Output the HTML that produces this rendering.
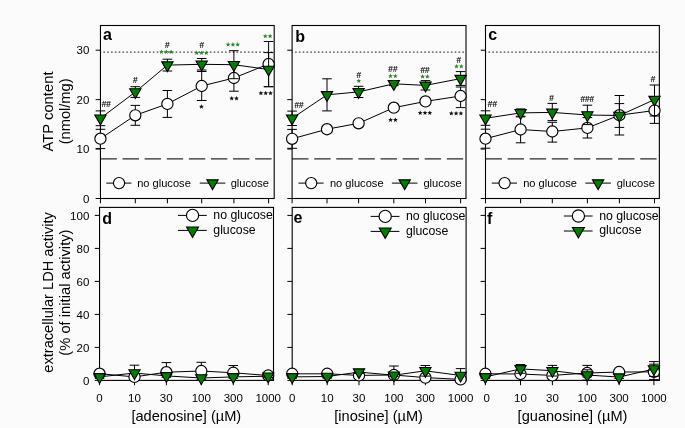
<!DOCTYPE html><html><head><meta charset="utf-8"><style>html,body{margin:0;padding:0;background:#fbfbfb;}svg{display:block;will-change:transform;}text{font-family:"Liberation Sans", sans-serif;}</style></head><body>
<svg width="685" height="428" viewBox="0 0 685 428">
<rect x="0" y="0" width="685" height="428" fill="#fbfbfb"/>
<line x1="100.45" y1="52.20" x2="274.20" y2="52.20" stroke="#444" stroke-width="1.3" stroke-dasharray="1.6 2.2" stroke-dashoffset="0.8"/>
<line x1="100.45" y1="158.90" x2="274.20" y2="158.90" stroke="#2a2a2a" stroke-width="1.2" stroke-dasharray="16.4 5.7"/>
<rect x="100.45" y="25.50" width="173.75" height="173.00" fill="none" stroke="#000" stroke-width="1.1"/>
<line x1="95.65" y1="198.50" x2="100.45" y2="198.50" stroke="#000" stroke-width="1"/>
<line x1="95.65" y1="149.07" x2="100.45" y2="149.07" stroke="#000" stroke-width="1"/>
<line x1="95.65" y1="99.64" x2="100.45" y2="99.64" stroke="#000" stroke-width="1"/>
<line x1="95.65" y1="50.21" x2="100.45" y2="50.21" stroke="#000" stroke-width="1"/>
<line x1="100.45" y1="198.50" x2="100.45" y2="203.30" stroke="#000" stroke-width="1"/>
<line x1="135.30" y1="198.50" x2="135.30" y2="203.30" stroke="#000" stroke-width="1"/>
<line x1="167.40" y1="198.50" x2="167.40" y2="203.30" stroke="#000" stroke-width="1"/>
<line x1="201.70" y1="198.50" x2="201.70" y2="203.30" stroke="#000" stroke-width="1"/>
<line x1="233.90" y1="198.50" x2="233.90" y2="203.30" stroke="#000" stroke-width="1"/>
<line x1="268.60" y1="198.50" x2="268.60" y2="203.30" stroke="#000" stroke-width="1"/>
<path d="M100.45 138.70L135.30 115.30L167.40 103.90L201.70 86.00L233.90 78.00L268.60 64.00" fill="none" stroke="#000" stroke-width="1"/>
<line x1="100.45" y1="129.30" x2="100.45" y2="148.60" stroke="#000" stroke-width="1"/>
<line x1="95.65" y1="129.30" x2="105.25" y2="129.30" stroke="#000" stroke-width="1"/>
<line x1="95.65" y1="148.60" x2="105.25" y2="148.60" stroke="#000" stroke-width="1"/>
<line x1="135.30" y1="105.40" x2="135.30" y2="125.30" stroke="#000" stroke-width="1"/>
<line x1="130.50" y1="105.40" x2="140.10" y2="105.40" stroke="#000" stroke-width="1"/>
<line x1="130.50" y1="125.30" x2="140.10" y2="125.30" stroke="#000" stroke-width="1"/>
<line x1="167.40" y1="90.50" x2="167.40" y2="117.40" stroke="#000" stroke-width="1"/>
<line x1="162.60" y1="90.50" x2="172.20" y2="90.50" stroke="#000" stroke-width="1"/>
<line x1="162.60" y1="117.40" x2="172.20" y2="117.40" stroke="#000" stroke-width="1"/>
<line x1="201.70" y1="71.50" x2="201.70" y2="100.50" stroke="#000" stroke-width="1"/>
<line x1="196.90" y1="71.50" x2="206.50" y2="71.50" stroke="#000" stroke-width="1"/>
<line x1="196.90" y1="100.50" x2="206.50" y2="100.50" stroke="#000" stroke-width="1"/>
<line x1="233.90" y1="64.80" x2="233.90" y2="91.20" stroke="#000" stroke-width="1"/>
<line x1="229.10" y1="64.80" x2="238.70" y2="64.80" stroke="#000" stroke-width="1"/>
<line x1="229.10" y1="91.20" x2="238.70" y2="91.20" stroke="#000" stroke-width="1"/>
<line x1="268.60" y1="41.50" x2="268.60" y2="86.70" stroke="#000" stroke-width="1"/>
<line x1="263.80" y1="41.50" x2="273.40" y2="41.50" stroke="#000" stroke-width="1"/>
<line x1="263.80" y1="86.70" x2="273.40" y2="86.70" stroke="#000" stroke-width="1"/>
<circle cx="100.45" cy="138.70" r="5.60" fill="#fff" stroke="#000" stroke-width="1.15"/>
<circle cx="135.30" cy="115.30" r="5.60" fill="#fff" stroke="#000" stroke-width="1.15"/>
<circle cx="167.40" cy="103.90" r="5.60" fill="#fff" stroke="#000" stroke-width="1.15"/>
<circle cx="201.70" cy="86.00" r="5.60" fill="#fff" stroke="#000" stroke-width="1.15"/>
<circle cx="233.90" cy="78.00" r="5.60" fill="#fff" stroke="#000" stroke-width="1.15"/>
<circle cx="268.60" cy="64.00" r="5.60" fill="#fff" stroke="#000" stroke-width="1.15"/>
<path d="M100.45 118.30L135.30 92.00L167.40 65.10L201.70 64.30L233.90 64.70L268.60 69.50" fill="none" stroke="#000" stroke-width="1"/>
<line x1="100.45" y1="110.90" x2="100.45" y2="125.70" stroke="#000" stroke-width="1"/>
<line x1="95.65" y1="110.90" x2="105.25" y2="110.90" stroke="#000" stroke-width="1"/>
<line x1="95.65" y1="125.70" x2="105.25" y2="125.70" stroke="#000" stroke-width="1"/>
<line x1="135.30" y1="86.70" x2="135.30" y2="97.40" stroke="#000" stroke-width="1"/>
<line x1="130.50" y1="86.70" x2="140.10" y2="86.70" stroke="#000" stroke-width="1"/>
<line x1="130.50" y1="97.40" x2="140.10" y2="97.40" stroke="#000" stroke-width="1"/>
<line x1="167.40" y1="59.20" x2="167.40" y2="71.00" stroke="#000" stroke-width="1"/>
<line x1="162.60" y1="59.20" x2="172.20" y2="59.20" stroke="#000" stroke-width="1"/>
<line x1="162.60" y1="71.00" x2="172.20" y2="71.00" stroke="#000" stroke-width="1"/>
<line x1="201.70" y1="58.50" x2="201.70" y2="70.00" stroke="#000" stroke-width="1"/>
<line x1="196.90" y1="58.50" x2="206.50" y2="58.50" stroke="#000" stroke-width="1"/>
<line x1="196.90" y1="70.00" x2="206.50" y2="70.00" stroke="#000" stroke-width="1"/>
<line x1="233.90" y1="50.70" x2="233.90" y2="78.70" stroke="#000" stroke-width="1"/>
<line x1="229.10" y1="50.70" x2="238.70" y2="50.70" stroke="#000" stroke-width="1"/>
<line x1="229.10" y1="78.70" x2="238.70" y2="78.70" stroke="#000" stroke-width="1"/>
<line x1="268.60" y1="52.60" x2="268.60" y2="86.70" stroke="#000" stroke-width="1"/>
<line x1="263.80" y1="52.60" x2="273.40" y2="52.60" stroke="#000" stroke-width="1"/>
<line x1="263.80" y1="86.70" x2="273.40" y2="86.70" stroke="#000" stroke-width="1"/>
<path d="M94.80 115.04L106.10 115.04L100.45 124.82Z" fill="#008000" stroke="#000" stroke-width="1.1"/>
<path d="M129.65 88.74L140.95 88.74L135.30 98.52Z" fill="#008000" stroke="#000" stroke-width="1.1"/>
<path d="M161.75 61.84L173.05 61.84L167.40 71.62Z" fill="#008000" stroke="#000" stroke-width="1.1"/>
<path d="M196.05 61.04L207.35 61.04L201.70 70.82Z" fill="#008000" stroke="#000" stroke-width="1.1"/>
<path d="M228.25 61.44L239.55 61.44L233.90 71.22Z" fill="#008000" stroke="#000" stroke-width="1.1"/>
<path d="M262.95 66.24L274.25 66.24L268.60 76.02Z" fill="#008000" stroke="#000" stroke-width="1.1"/>
<line x1="292.10" y1="52.20" x2="466.00" y2="52.20" stroke="#444" stroke-width="1.3" stroke-dasharray="1.6 2.2" stroke-dashoffset="0.8"/>
<line x1="292.10" y1="158.90" x2="466.00" y2="158.90" stroke="#2a2a2a" stroke-width="1.2" stroke-dasharray="16.4 5.7"/>
<rect x="292.10" y="25.50" width="173.90" height="173.00" fill="none" stroke="#000" stroke-width="1.1"/>
<line x1="287.30" y1="198.50" x2="292.10" y2="198.50" stroke="#000" stroke-width="1"/>
<line x1="287.30" y1="149.07" x2="292.10" y2="149.07" stroke="#000" stroke-width="1"/>
<line x1="287.30" y1="99.64" x2="292.10" y2="99.64" stroke="#000" stroke-width="1"/>
<line x1="287.30" y1="50.21" x2="292.10" y2="50.21" stroke="#000" stroke-width="1"/>
<line x1="292.10" y1="198.50" x2="292.10" y2="203.30" stroke="#000" stroke-width="1"/>
<line x1="327.00" y1="198.50" x2="327.00" y2="203.30" stroke="#000" stroke-width="1"/>
<line x1="358.60" y1="198.50" x2="358.60" y2="203.30" stroke="#000" stroke-width="1"/>
<line x1="393.80" y1="198.50" x2="393.80" y2="203.30" stroke="#000" stroke-width="1"/>
<line x1="425.50" y1="198.50" x2="425.50" y2="203.30" stroke="#000" stroke-width="1"/>
<line x1="460.60" y1="198.50" x2="460.60" y2="203.30" stroke="#000" stroke-width="1"/>
<path d="M292.10 138.80L327.00 129.20L358.60 123.30L393.80 107.70L425.50 101.40L460.60 96.00" fill="none" stroke="#000" stroke-width="1"/>
<line x1="292.10" y1="129.40" x2="292.10" y2="148.30" stroke="#000" stroke-width="1"/>
<line x1="287.30" y1="129.40" x2="296.90" y2="129.40" stroke="#000" stroke-width="1"/>
<line x1="287.30" y1="148.30" x2="296.90" y2="148.30" stroke="#000" stroke-width="1"/>
<line x1="327.00" y1="127.00" x2="327.00" y2="131.40" stroke="#000" stroke-width="1"/>
<line x1="322.20" y1="127.00" x2="331.80" y2="127.00" stroke="#000" stroke-width="1"/>
<line x1="322.20" y1="131.40" x2="331.80" y2="131.40" stroke="#000" stroke-width="1"/>
<line x1="358.60" y1="121.50" x2="358.60" y2="125.00" stroke="#000" stroke-width="1"/>
<line x1="353.80" y1="121.50" x2="363.40" y2="121.50" stroke="#000" stroke-width="1"/>
<line x1="353.80" y1="125.00" x2="363.40" y2="125.00" stroke="#000" stroke-width="1"/>
<line x1="393.80" y1="106.00" x2="393.80" y2="109.50" stroke="#000" stroke-width="1"/>
<line x1="389.00" y1="106.00" x2="398.60" y2="106.00" stroke="#000" stroke-width="1"/>
<line x1="389.00" y1="109.50" x2="398.60" y2="109.50" stroke="#000" stroke-width="1"/>
<line x1="425.50" y1="99.60" x2="425.50" y2="103.40" stroke="#000" stroke-width="1"/>
<line x1="420.70" y1="99.60" x2="430.30" y2="99.60" stroke="#000" stroke-width="1"/>
<line x1="420.70" y1="103.40" x2="430.30" y2="103.40" stroke="#000" stroke-width="1"/>
<line x1="460.60" y1="87.00" x2="460.60" y2="107.60" stroke="#000" stroke-width="1"/>
<line x1="455.80" y1="87.00" x2="465.40" y2="87.00" stroke="#000" stroke-width="1"/>
<line x1="455.80" y1="107.60" x2="465.40" y2="107.60" stroke="#000" stroke-width="1"/>
<circle cx="292.10" cy="138.80" r="5.60" fill="#fff" stroke="#000" stroke-width="1.15"/>
<circle cx="327.00" cy="129.20" r="5.60" fill="#fff" stroke="#000" stroke-width="1.15"/>
<circle cx="358.60" cy="123.30" r="5.60" fill="#fff" stroke="#000" stroke-width="1.15"/>
<circle cx="393.80" cy="107.70" r="5.60" fill="#fff" stroke="#000" stroke-width="1.15"/>
<circle cx="425.50" cy="101.40" r="5.60" fill="#fff" stroke="#000" stroke-width="1.15"/>
<circle cx="460.60" cy="96.00" r="5.60" fill="#fff" stroke="#000" stroke-width="1.15"/>
<path d="M292.10 118.30L327.00 94.85L358.60 91.90L393.80 83.80L425.50 85.40L460.60 78.60" fill="none" stroke="#000" stroke-width="1"/>
<line x1="292.10" y1="111.10" x2="292.10" y2="125.50" stroke="#000" stroke-width="1"/>
<line x1="287.30" y1="111.10" x2="296.90" y2="111.10" stroke="#000" stroke-width="1"/>
<line x1="287.30" y1="125.50" x2="296.90" y2="125.50" stroke="#000" stroke-width="1"/>
<line x1="327.00" y1="78.80" x2="327.00" y2="110.90" stroke="#000" stroke-width="1"/>
<line x1="322.20" y1="78.80" x2="331.80" y2="78.80" stroke="#000" stroke-width="1"/>
<line x1="322.20" y1="110.90" x2="331.80" y2="110.90" stroke="#000" stroke-width="1"/>
<line x1="358.60" y1="86.30" x2="358.60" y2="97.50" stroke="#000" stroke-width="1"/>
<line x1="353.80" y1="86.30" x2="363.40" y2="86.30" stroke="#000" stroke-width="1"/>
<line x1="353.80" y1="97.50" x2="363.40" y2="97.50" stroke="#000" stroke-width="1"/>
<line x1="393.80" y1="82.00" x2="393.80" y2="85.60" stroke="#000" stroke-width="1"/>
<line x1="389.00" y1="82.00" x2="398.60" y2="82.00" stroke="#000" stroke-width="1"/>
<line x1="389.00" y1="85.60" x2="398.60" y2="85.60" stroke="#000" stroke-width="1"/>
<line x1="425.50" y1="80.60" x2="425.50" y2="90.00" stroke="#000" stroke-width="1"/>
<line x1="420.70" y1="80.60" x2="430.30" y2="80.60" stroke="#000" stroke-width="1"/>
<line x1="420.70" y1="90.00" x2="430.30" y2="90.00" stroke="#000" stroke-width="1"/>
<line x1="460.60" y1="71.60" x2="460.60" y2="85.40" stroke="#000" stroke-width="1"/>
<line x1="455.80" y1="71.60" x2="465.40" y2="71.60" stroke="#000" stroke-width="1"/>
<line x1="455.80" y1="85.40" x2="465.40" y2="85.40" stroke="#000" stroke-width="1"/>
<path d="M286.45 115.04L297.75 115.04L292.10 124.82Z" fill="#008000" stroke="#000" stroke-width="1.1"/>
<path d="M321.35 91.59L332.65 91.59L327.00 101.37Z" fill="#008000" stroke="#000" stroke-width="1.1"/>
<path d="M352.95 88.64L364.25 88.64L358.60 98.42Z" fill="#008000" stroke="#000" stroke-width="1.1"/>
<path d="M388.15 80.54L399.45 80.54L393.80 90.32Z" fill="#008000" stroke="#000" stroke-width="1.1"/>
<path d="M419.85 82.14L431.15 82.14L425.50 91.92Z" fill="#008000" stroke="#000" stroke-width="1.1"/>
<path d="M454.95 75.34L466.25 75.34L460.60 85.12Z" fill="#008000" stroke="#000" stroke-width="1.1"/>
<line x1="485.50" y1="52.20" x2="659.35" y2="52.20" stroke="#444" stroke-width="1.3" stroke-dasharray="1.6 2.2" stroke-dashoffset="0.8"/>
<line x1="485.50" y1="158.90" x2="659.35" y2="158.90" stroke="#2a2a2a" stroke-width="1.2" stroke-dasharray="16.4 5.7"/>
<rect x="485.50" y="25.50" width="173.85" height="173.00" fill="none" stroke="#000" stroke-width="1.1"/>
<line x1="480.70" y1="198.50" x2="485.50" y2="198.50" stroke="#000" stroke-width="1"/>
<line x1="480.70" y1="149.07" x2="485.50" y2="149.07" stroke="#000" stroke-width="1"/>
<line x1="480.70" y1="99.64" x2="485.50" y2="99.64" stroke="#000" stroke-width="1"/>
<line x1="480.70" y1="50.21" x2="485.50" y2="50.21" stroke="#000" stroke-width="1"/>
<line x1="485.50" y1="198.50" x2="485.50" y2="203.30" stroke="#000" stroke-width="1"/>
<line x1="520.60" y1="198.50" x2="520.60" y2="203.30" stroke="#000" stroke-width="1"/>
<line x1="552.30" y1="198.50" x2="552.30" y2="203.30" stroke="#000" stroke-width="1"/>
<line x1="587.40" y1="198.50" x2="587.40" y2="203.30" stroke="#000" stroke-width="1"/>
<line x1="619.40" y1="198.50" x2="619.40" y2="203.30" stroke="#000" stroke-width="1"/>
<line x1="654.50" y1="198.50" x2="654.50" y2="203.30" stroke="#000" stroke-width="1"/>
<path d="M485.50 138.70L520.60 129.50L552.30 131.50L587.40 127.90L619.40 115.20L654.50 110.50" fill="none" stroke="#000" stroke-width="1"/>
<line x1="485.50" y1="129.20" x2="485.50" y2="148.20" stroke="#000" stroke-width="1"/>
<line x1="480.70" y1="129.20" x2="490.30" y2="129.20" stroke="#000" stroke-width="1"/>
<line x1="480.70" y1="148.20" x2="490.30" y2="148.20" stroke="#000" stroke-width="1"/>
<line x1="520.60" y1="116.20" x2="520.60" y2="142.80" stroke="#000" stroke-width="1"/>
<line x1="515.80" y1="116.20" x2="525.40" y2="116.20" stroke="#000" stroke-width="1"/>
<line x1="515.80" y1="142.80" x2="525.40" y2="142.80" stroke="#000" stroke-width="1"/>
<line x1="552.30" y1="122.30" x2="552.30" y2="142.10" stroke="#000" stroke-width="1"/>
<line x1="547.50" y1="122.30" x2="557.10" y2="122.30" stroke="#000" stroke-width="1"/>
<line x1="547.50" y1="142.10" x2="557.10" y2="142.10" stroke="#000" stroke-width="1"/>
<line x1="587.40" y1="117.60" x2="587.40" y2="138.00" stroke="#000" stroke-width="1"/>
<line x1="582.60" y1="117.60" x2="592.20" y2="117.60" stroke="#000" stroke-width="1"/>
<line x1="582.60" y1="138.00" x2="592.20" y2="138.00" stroke="#000" stroke-width="1"/>
<line x1="619.40" y1="95.50" x2="619.40" y2="135.00" stroke="#000" stroke-width="1"/>
<line x1="614.60" y1="95.50" x2="624.20" y2="95.50" stroke="#000" stroke-width="1"/>
<line x1="614.60" y1="135.00" x2="624.20" y2="135.00" stroke="#000" stroke-width="1"/>
<line x1="654.50" y1="97.50" x2="654.50" y2="123.40" stroke="#000" stroke-width="1"/>
<line x1="649.70" y1="97.50" x2="659.30" y2="97.50" stroke="#000" stroke-width="1"/>
<line x1="649.70" y1="123.40" x2="659.30" y2="123.40" stroke="#000" stroke-width="1"/>
<circle cx="485.50" cy="138.70" r="5.60" fill="#fff" stroke="#000" stroke-width="1.15"/>
<circle cx="520.60" cy="129.50" r="5.60" fill="#fff" stroke="#000" stroke-width="1.15"/>
<circle cx="552.30" cy="131.50" r="5.60" fill="#fff" stroke="#000" stroke-width="1.15"/>
<circle cx="587.40" cy="127.90" r="5.60" fill="#fff" stroke="#000" stroke-width="1.15"/>
<circle cx="619.40" cy="115.20" r="5.60" fill="#fff" stroke="#000" stroke-width="1.15"/>
<circle cx="654.50" cy="110.50" r="5.60" fill="#fff" stroke="#000" stroke-width="1.15"/>
<path d="M485.50 118.30L520.60 112.90L552.30 112.40L587.40 115.00L619.40 115.50L654.50 99.60" fill="none" stroke="#000" stroke-width="1"/>
<line x1="485.50" y1="110.80" x2="485.50" y2="125.30" stroke="#000" stroke-width="1"/>
<line x1="480.70" y1="110.80" x2="490.30" y2="110.80" stroke="#000" stroke-width="1"/>
<line x1="480.70" y1="125.30" x2="490.30" y2="125.30" stroke="#000" stroke-width="1"/>
<line x1="520.60" y1="108.90" x2="520.60" y2="116.90" stroke="#000" stroke-width="1"/>
<line x1="515.80" y1="108.90" x2="525.40" y2="108.90" stroke="#000" stroke-width="1"/>
<line x1="515.80" y1="116.90" x2="525.40" y2="116.90" stroke="#000" stroke-width="1"/>
<line x1="552.30" y1="103.40" x2="552.30" y2="120.60" stroke="#000" stroke-width="1"/>
<line x1="547.50" y1="103.40" x2="557.10" y2="103.40" stroke="#000" stroke-width="1"/>
<line x1="547.50" y1="120.60" x2="557.10" y2="120.60" stroke="#000" stroke-width="1"/>
<line x1="587.40" y1="105.20" x2="587.40" y2="124.60" stroke="#000" stroke-width="1"/>
<line x1="582.60" y1="105.20" x2="592.20" y2="105.20" stroke="#000" stroke-width="1"/>
<line x1="582.60" y1="124.60" x2="592.20" y2="124.60" stroke="#000" stroke-width="1"/>
<line x1="619.40" y1="103.60" x2="619.40" y2="127.40" stroke="#000" stroke-width="1"/>
<line x1="614.60" y1="103.60" x2="624.20" y2="103.60" stroke="#000" stroke-width="1"/>
<line x1="614.60" y1="127.40" x2="624.20" y2="127.40" stroke="#000" stroke-width="1"/>
<line x1="654.50" y1="85.00" x2="654.50" y2="116.00" stroke="#000" stroke-width="1"/>
<line x1="649.70" y1="85.00" x2="659.30" y2="85.00" stroke="#000" stroke-width="1"/>
<line x1="649.70" y1="116.00" x2="659.30" y2="116.00" stroke="#000" stroke-width="1"/>
<path d="M479.85 115.04L491.15 115.04L485.50 124.82Z" fill="#008000" stroke="#000" stroke-width="1.1"/>
<path d="M514.95 109.64L526.25 109.64L520.60 119.42Z" fill="#008000" stroke="#000" stroke-width="1.1"/>
<path d="M546.65 109.14L557.95 109.14L552.30 118.92Z" fill="#008000" stroke="#000" stroke-width="1.1"/>
<path d="M581.75 111.74L593.05 111.74L587.40 121.52Z" fill="#008000" stroke="#000" stroke-width="1.1"/>
<path d="M613.75 112.24L625.05 112.24L619.40 122.02Z" fill="#008000" stroke="#000" stroke-width="1.1"/>
<path d="M648.85 96.34L660.15 96.34L654.50 106.12Z" fill="#008000" stroke="#000" stroke-width="1.1"/>
<rect x="99.55" y="207.40" width="173.95" height="173.00" fill="none" stroke="#000" stroke-width="1.1"/>
<line x1="94.75" y1="380.40" x2="99.55" y2="380.40" stroke="#000" stroke-width="1"/>
<line x1="94.75" y1="347.40" x2="99.55" y2="347.40" stroke="#000" stroke-width="1"/>
<line x1="94.75" y1="314.40" x2="99.55" y2="314.40" stroke="#000" stroke-width="1"/>
<line x1="94.75" y1="281.40" x2="99.55" y2="281.40" stroke="#000" stroke-width="1"/>
<line x1="94.75" y1="248.40" x2="99.55" y2="248.40" stroke="#000" stroke-width="1"/>
<line x1="94.75" y1="215.40" x2="99.55" y2="215.40" stroke="#000" stroke-width="1"/>
<line x1="99.55" y1="380.40" x2="99.55" y2="385.20" stroke="#000" stroke-width="1"/>
<line x1="134.50" y1="380.40" x2="134.50" y2="385.20" stroke="#000" stroke-width="1"/>
<line x1="166.40" y1="380.40" x2="166.40" y2="385.20" stroke="#000" stroke-width="1"/>
<line x1="201.30" y1="380.40" x2="201.30" y2="385.20" stroke="#000" stroke-width="1"/>
<line x1="233.30" y1="380.40" x2="233.30" y2="385.20" stroke="#000" stroke-width="1"/>
<line x1="268.20" y1="380.40" x2="268.20" y2="385.20" stroke="#000" stroke-width="1"/>
<path d="M99.55 373.70L134.50 376.90L166.40 372.20L201.30 371.00L233.30 372.80L268.20 375.50" fill="none" stroke="#000" stroke-width="1"/>
<line x1="99.55" y1="372.00" x2="99.55" y2="375.40" stroke="#000" stroke-width="1"/>
<line x1="94.75" y1="372.00" x2="104.35" y2="372.00" stroke="#000" stroke-width="1"/>
<line x1="94.75" y1="375.40" x2="104.35" y2="375.40" stroke="#000" stroke-width="1"/>
<line x1="134.50" y1="375.00" x2="134.50" y2="378.80" stroke="#000" stroke-width="1"/>
<line x1="129.70" y1="375.00" x2="139.30" y2="375.00" stroke="#000" stroke-width="1"/>
<line x1="129.70" y1="378.80" x2="139.30" y2="378.80" stroke="#000" stroke-width="1"/>
<line x1="166.40" y1="362.60" x2="166.40" y2="380.40" stroke="#000" stroke-width="1"/>
<line x1="161.60" y1="362.60" x2="171.20" y2="362.60" stroke="#000" stroke-width="1"/>
<line x1="201.30" y1="362.30" x2="201.30" y2="380.40" stroke="#000" stroke-width="1"/>
<line x1="196.50" y1="362.30" x2="206.10" y2="362.30" stroke="#000" stroke-width="1"/>
<line x1="233.30" y1="365.50" x2="233.30" y2="380.40" stroke="#000" stroke-width="1"/>
<line x1="228.50" y1="365.50" x2="238.10" y2="365.50" stroke="#000" stroke-width="1"/>
<line x1="268.20" y1="374.00" x2="268.20" y2="377.00" stroke="#000" stroke-width="1"/>
<line x1="263.40" y1="374.00" x2="273.00" y2="374.00" stroke="#000" stroke-width="1"/>
<line x1="263.40" y1="377.00" x2="273.00" y2="377.00" stroke="#000" stroke-width="1"/>
<circle cx="99.55" cy="373.70" r="5.60" fill="#fff" stroke="#000" stroke-width="1.15"/>
<circle cx="134.50" cy="376.90" r="5.60" fill="#fff" stroke="#000" stroke-width="1.15"/>
<circle cx="166.40" cy="372.20" r="5.60" fill="#fff" stroke="#000" stroke-width="1.15"/>
<circle cx="201.30" cy="371.00" r="5.60" fill="#fff" stroke="#000" stroke-width="1.15"/>
<circle cx="233.30" cy="372.80" r="5.60" fill="#fff" stroke="#000" stroke-width="1.15"/>
<circle cx="268.20" cy="375.50" r="5.60" fill="#fff" stroke="#000" stroke-width="1.15"/>
<path d="M99.55 376.90L134.50 373.00L166.40 375.90L201.30 378.00L233.30 376.90L268.20 376.20" fill="none" stroke="#000" stroke-width="1"/>
<line x1="99.55" y1="375.50" x2="99.55" y2="378.30" stroke="#000" stroke-width="1"/>
<line x1="94.75" y1="375.50" x2="104.35" y2="375.50" stroke="#000" stroke-width="1"/>
<line x1="94.75" y1="378.30" x2="104.35" y2="378.30" stroke="#000" stroke-width="1"/>
<line x1="134.50" y1="365.20" x2="134.50" y2="380.40" stroke="#000" stroke-width="1"/>
<line x1="129.70" y1="365.20" x2="139.30" y2="365.20" stroke="#000" stroke-width="1"/>
<line x1="166.40" y1="374.50" x2="166.40" y2="377.30" stroke="#000" stroke-width="1"/>
<line x1="161.60" y1="374.50" x2="171.20" y2="374.50" stroke="#000" stroke-width="1"/>
<line x1="161.60" y1="377.30" x2="171.20" y2="377.30" stroke="#000" stroke-width="1"/>
<line x1="201.30" y1="376.60" x2="201.30" y2="379.40" stroke="#000" stroke-width="1"/>
<line x1="196.50" y1="376.60" x2="206.10" y2="376.60" stroke="#000" stroke-width="1"/>
<line x1="196.50" y1="379.40" x2="206.10" y2="379.40" stroke="#000" stroke-width="1"/>
<line x1="233.30" y1="375.50" x2="233.30" y2="378.30" stroke="#000" stroke-width="1"/>
<line x1="228.50" y1="375.50" x2="238.10" y2="375.50" stroke="#000" stroke-width="1"/>
<line x1="228.50" y1="378.30" x2="238.10" y2="378.30" stroke="#000" stroke-width="1"/>
<line x1="268.20" y1="374.80" x2="268.20" y2="377.60" stroke="#000" stroke-width="1"/>
<line x1="263.40" y1="374.80" x2="273.00" y2="374.80" stroke="#000" stroke-width="1"/>
<line x1="263.40" y1="377.60" x2="273.00" y2="377.60" stroke="#000" stroke-width="1"/>
<path d="M93.90 373.64L105.20 373.64L99.55 383.42Z" fill="#008000" stroke="#000" stroke-width="1.1"/>
<path d="M128.85 369.74L140.15 369.74L134.50 379.52Z" fill="#008000" stroke="#000" stroke-width="1.1"/>
<path d="M160.75 372.64L172.05 372.64L166.40 382.42Z" fill="#008000" stroke="#000" stroke-width="1.1"/>
<path d="M195.65 374.74L206.95 374.74L201.30 384.52Z" fill="#008000" stroke="#000" stroke-width="1.1"/>
<path d="M227.65 373.64L238.95 373.64L233.30 383.42Z" fill="#008000" stroke="#000" stroke-width="1.1"/>
<path d="M262.55 372.94L273.85 372.94L268.20 382.72Z" fill="#008000" stroke="#000" stroke-width="1.1"/>
<rect x="292.20" y="207.40" width="173.90" height="173.00" fill="none" stroke="#000" stroke-width="1.1"/>
<line x1="287.40" y1="380.40" x2="292.20" y2="380.40" stroke="#000" stroke-width="1"/>
<line x1="287.40" y1="347.40" x2="292.20" y2="347.40" stroke="#000" stroke-width="1"/>
<line x1="287.40" y1="314.40" x2="292.20" y2="314.40" stroke="#000" stroke-width="1"/>
<line x1="287.40" y1="281.40" x2="292.20" y2="281.40" stroke="#000" stroke-width="1"/>
<line x1="287.40" y1="248.40" x2="292.20" y2="248.40" stroke="#000" stroke-width="1"/>
<line x1="287.40" y1="215.40" x2="292.20" y2="215.40" stroke="#000" stroke-width="1"/>
<line x1="292.20" y1="380.40" x2="292.20" y2="385.20" stroke="#000" stroke-width="1"/>
<line x1="327.20" y1="380.40" x2="327.20" y2="385.20" stroke="#000" stroke-width="1"/>
<line x1="359.00" y1="380.40" x2="359.00" y2="385.20" stroke="#000" stroke-width="1"/>
<line x1="393.90" y1="380.40" x2="393.90" y2="385.20" stroke="#000" stroke-width="1"/>
<line x1="425.40" y1="380.40" x2="425.40" y2="385.20" stroke="#000" stroke-width="1"/>
<line x1="460.60" y1="380.40" x2="460.60" y2="385.20" stroke="#000" stroke-width="1"/>
<path d="M292.20 373.80L327.20 373.80L359.00 375.40L393.90 375.00L425.40 377.60L460.60 379.40" fill="none" stroke="#000" stroke-width="1"/>
<line x1="292.20" y1="372.20" x2="292.20" y2="375.40" stroke="#000" stroke-width="1"/>
<line x1="287.40" y1="372.20" x2="297.00" y2="372.20" stroke="#000" stroke-width="1"/>
<line x1="287.40" y1="375.40" x2="297.00" y2="375.40" stroke="#000" stroke-width="1"/>
<line x1="327.20" y1="372.20" x2="327.20" y2="375.40" stroke="#000" stroke-width="1"/>
<line x1="322.40" y1="372.20" x2="332.00" y2="372.20" stroke="#000" stroke-width="1"/>
<line x1="322.40" y1="375.40" x2="332.00" y2="375.40" stroke="#000" stroke-width="1"/>
<line x1="359.00" y1="373.80" x2="359.00" y2="377.00" stroke="#000" stroke-width="1"/>
<line x1="354.20" y1="373.80" x2="363.80" y2="373.80" stroke="#000" stroke-width="1"/>
<line x1="354.20" y1="377.00" x2="363.80" y2="377.00" stroke="#000" stroke-width="1"/>
<line x1="393.90" y1="366.00" x2="393.90" y2="380.40" stroke="#000" stroke-width="1"/>
<line x1="389.10" y1="366.00" x2="398.70" y2="366.00" stroke="#000" stroke-width="1"/>
<line x1="425.40" y1="376.00" x2="425.40" y2="379.20" stroke="#000" stroke-width="1"/>
<line x1="420.60" y1="376.00" x2="430.20" y2="376.00" stroke="#000" stroke-width="1"/>
<line x1="420.60" y1="379.20" x2="430.20" y2="379.20" stroke="#000" stroke-width="1"/>
<line x1="460.60" y1="377.80" x2="460.60" y2="380.40" stroke="#000" stroke-width="1"/>
<line x1="455.80" y1="377.80" x2="465.40" y2="377.80" stroke="#000" stroke-width="1"/>
<circle cx="292.20" cy="373.80" r="5.60" fill="#fff" stroke="#000" stroke-width="1.15"/>
<circle cx="327.20" cy="373.80" r="5.60" fill="#fff" stroke="#000" stroke-width="1.15"/>
<circle cx="359.00" cy="375.40" r="5.60" fill="#fff" stroke="#000" stroke-width="1.15"/>
<circle cx="393.90" cy="375.00" r="5.60" fill="#fff" stroke="#000" stroke-width="1.15"/>
<circle cx="425.40" cy="377.60" r="5.60" fill="#fff" stroke="#000" stroke-width="1.15"/>
<circle cx="460.60" cy="379.40" r="5.60" fill="#fff" stroke="#000" stroke-width="1.15"/>
<path d="M292.20 376.90L327.20 376.50L359.00 372.10L393.90 375.20L425.40 370.80L460.60 375.50" fill="none" stroke="#000" stroke-width="1"/>
<line x1="292.20" y1="375.50" x2="292.20" y2="378.30" stroke="#000" stroke-width="1"/>
<line x1="287.40" y1="375.50" x2="297.00" y2="375.50" stroke="#000" stroke-width="1"/>
<line x1="287.40" y1="378.30" x2="297.00" y2="378.30" stroke="#000" stroke-width="1"/>
<line x1="327.20" y1="375.10" x2="327.20" y2="377.90" stroke="#000" stroke-width="1"/>
<line x1="322.40" y1="375.10" x2="332.00" y2="375.10" stroke="#000" stroke-width="1"/>
<line x1="322.40" y1="377.90" x2="332.00" y2="377.90" stroke="#000" stroke-width="1"/>
<line x1="359.00" y1="370.70" x2="359.00" y2="373.50" stroke="#000" stroke-width="1"/>
<line x1="354.20" y1="370.70" x2="363.80" y2="370.70" stroke="#000" stroke-width="1"/>
<line x1="354.20" y1="373.50" x2="363.80" y2="373.50" stroke="#000" stroke-width="1"/>
<line x1="393.90" y1="373.80" x2="393.90" y2="376.60" stroke="#000" stroke-width="1"/>
<line x1="389.10" y1="373.80" x2="398.70" y2="373.80" stroke="#000" stroke-width="1"/>
<line x1="389.10" y1="376.60" x2="398.70" y2="376.60" stroke="#000" stroke-width="1"/>
<line x1="425.40" y1="365.50" x2="425.40" y2="376.10" stroke="#000" stroke-width="1"/>
<line x1="420.60" y1="365.50" x2="430.20" y2="365.50" stroke="#000" stroke-width="1"/>
<line x1="420.60" y1="376.10" x2="430.20" y2="376.10" stroke="#000" stroke-width="1"/>
<line x1="460.60" y1="368.60" x2="460.60" y2="380.40" stroke="#000" stroke-width="1"/>
<line x1="455.80" y1="368.60" x2="465.40" y2="368.60" stroke="#000" stroke-width="1"/>
<path d="M286.55 373.64L297.85 373.64L292.20 383.42Z" fill="#008000" stroke="#000" stroke-width="1.1"/>
<path d="M321.55 373.24L332.85 373.24L327.20 383.02Z" fill="#008000" stroke="#000" stroke-width="1.1"/>
<path d="M353.35 368.84L364.65 368.84L359.00 378.62Z" fill="#008000" stroke="#000" stroke-width="1.1"/>
<path d="M388.25 371.94L399.55 371.94L393.90 381.72Z" fill="#008000" stroke="#000" stroke-width="1.1"/>
<path d="M419.75 367.54L431.05 367.54L425.40 377.32Z" fill="#008000" stroke="#000" stroke-width="1.1"/>
<path d="M454.95 372.24L466.25 372.24L460.60 382.02Z" fill="#008000" stroke="#000" stroke-width="1.1"/>
<rect x="485.40" y="207.40" width="174.00" height="173.00" fill="none" stroke="#000" stroke-width="1.1"/>
<line x1="480.60" y1="380.40" x2="485.40" y2="380.40" stroke="#000" stroke-width="1"/>
<line x1="480.60" y1="347.40" x2="485.40" y2="347.40" stroke="#000" stroke-width="1"/>
<line x1="480.60" y1="314.40" x2="485.40" y2="314.40" stroke="#000" stroke-width="1"/>
<line x1="480.60" y1="281.40" x2="485.40" y2="281.40" stroke="#000" stroke-width="1"/>
<line x1="480.60" y1="248.40" x2="485.40" y2="248.40" stroke="#000" stroke-width="1"/>
<line x1="480.60" y1="215.40" x2="485.40" y2="215.40" stroke="#000" stroke-width="1"/>
<line x1="485.40" y1="380.40" x2="485.40" y2="385.20" stroke="#000" stroke-width="1"/>
<line x1="520.50" y1="380.40" x2="520.50" y2="385.20" stroke="#000" stroke-width="1"/>
<line x1="552.40" y1="380.40" x2="552.40" y2="385.20" stroke="#000" stroke-width="1"/>
<line x1="587.20" y1="380.40" x2="587.20" y2="385.20" stroke="#000" stroke-width="1"/>
<line x1="619.10" y1="380.40" x2="619.10" y2="385.20" stroke="#000" stroke-width="1"/>
<line x1="653.90" y1="380.40" x2="653.90" y2="385.20" stroke="#000" stroke-width="1"/>
<path d="M485.40 373.80L520.50 374.00L552.40 375.40L587.20 373.00L619.10 372.00L653.90 371.90" fill="none" stroke="#000" stroke-width="1"/>
<line x1="485.40" y1="372.20" x2="485.40" y2="375.40" stroke="#000" stroke-width="1"/>
<line x1="480.60" y1="372.20" x2="490.20" y2="372.20" stroke="#000" stroke-width="1"/>
<line x1="480.60" y1="375.40" x2="490.20" y2="375.40" stroke="#000" stroke-width="1"/>
<line x1="520.50" y1="372.40" x2="520.50" y2="375.60" stroke="#000" stroke-width="1"/>
<line x1="515.70" y1="372.40" x2="525.30" y2="372.40" stroke="#000" stroke-width="1"/>
<line x1="515.70" y1="375.60" x2="525.30" y2="375.60" stroke="#000" stroke-width="1"/>
<line x1="552.40" y1="373.80" x2="552.40" y2="377.00" stroke="#000" stroke-width="1"/>
<line x1="547.60" y1="373.80" x2="557.20" y2="373.80" stroke="#000" stroke-width="1"/>
<line x1="547.60" y1="377.00" x2="557.20" y2="377.00" stroke="#000" stroke-width="1"/>
<line x1="587.20" y1="365.40" x2="587.20" y2="380.40" stroke="#000" stroke-width="1"/>
<line x1="582.40" y1="365.40" x2="592.00" y2="365.40" stroke="#000" stroke-width="1"/>
<line x1="619.10" y1="370.40" x2="619.10" y2="373.60" stroke="#000" stroke-width="1"/>
<line x1="614.30" y1="370.40" x2="623.90" y2="370.40" stroke="#000" stroke-width="1"/>
<line x1="614.30" y1="373.60" x2="623.90" y2="373.60" stroke="#000" stroke-width="1"/>
<line x1="653.90" y1="364.20" x2="653.90" y2="379.60" stroke="#000" stroke-width="1"/>
<line x1="649.10" y1="364.20" x2="658.70" y2="364.20" stroke="#000" stroke-width="1"/>
<line x1="649.10" y1="379.60" x2="658.70" y2="379.60" stroke="#000" stroke-width="1"/>
<circle cx="485.40" cy="373.80" r="5.60" fill="#fff" stroke="#000" stroke-width="1.15"/>
<circle cx="520.50" cy="374.00" r="5.60" fill="#fff" stroke="#000" stroke-width="1.15"/>
<circle cx="552.40" cy="375.40" r="5.60" fill="#fff" stroke="#000" stroke-width="1.15"/>
<circle cx="587.20" cy="373.00" r="5.60" fill="#fff" stroke="#000" stroke-width="1.15"/>
<circle cx="619.10" cy="372.00" r="5.60" fill="#fff" stroke="#000" stroke-width="1.15"/>
<circle cx="653.90" cy="371.90" r="5.60" fill="#fff" stroke="#000" stroke-width="1.15"/>
<path d="M485.40 376.90L520.50 368.90L552.40 370.70L587.20 375.00L619.10 377.10L653.90 369.00" fill="none" stroke="#000" stroke-width="1"/>
<line x1="485.40" y1="375.50" x2="485.40" y2="378.30" stroke="#000" stroke-width="1"/>
<line x1="480.60" y1="375.50" x2="490.20" y2="375.50" stroke="#000" stroke-width="1"/>
<line x1="480.60" y1="378.30" x2="490.20" y2="378.30" stroke="#000" stroke-width="1"/>
<line x1="520.50" y1="364.50" x2="520.50" y2="373.30" stroke="#000" stroke-width="1"/>
<line x1="515.70" y1="364.50" x2="525.30" y2="364.50" stroke="#000" stroke-width="1"/>
<line x1="515.70" y1="373.30" x2="525.30" y2="373.30" stroke="#000" stroke-width="1"/>
<line x1="552.40" y1="365.40" x2="552.40" y2="376.00" stroke="#000" stroke-width="1"/>
<line x1="547.60" y1="365.40" x2="557.20" y2="365.40" stroke="#000" stroke-width="1"/>
<line x1="547.60" y1="376.00" x2="557.20" y2="376.00" stroke="#000" stroke-width="1"/>
<line x1="587.20" y1="369.80" x2="587.20" y2="380.20" stroke="#000" stroke-width="1"/>
<line x1="582.40" y1="369.80" x2="592.00" y2="369.80" stroke="#000" stroke-width="1"/>
<line x1="582.40" y1="380.20" x2="592.00" y2="380.20" stroke="#000" stroke-width="1"/>
<line x1="619.10" y1="375.70" x2="619.10" y2="378.50" stroke="#000" stroke-width="1"/>
<line x1="614.30" y1="375.70" x2="623.90" y2="375.70" stroke="#000" stroke-width="1"/>
<line x1="614.30" y1="378.50" x2="623.90" y2="378.50" stroke="#000" stroke-width="1"/>
<line x1="653.90" y1="361.60" x2="653.90" y2="376.40" stroke="#000" stroke-width="1"/>
<line x1="649.10" y1="361.60" x2="658.70" y2="361.60" stroke="#000" stroke-width="1"/>
<line x1="649.10" y1="376.40" x2="658.70" y2="376.40" stroke="#000" stroke-width="1"/>
<path d="M479.75 373.64L491.05 373.64L485.40 383.42Z" fill="#008000" stroke="#000" stroke-width="1.1"/>
<path d="M514.85 365.64L526.15 365.64L520.50 375.42Z" fill="#008000" stroke="#000" stroke-width="1.1"/>
<path d="M546.75 367.44L558.05 367.44L552.40 377.22Z" fill="#008000" stroke="#000" stroke-width="1.1"/>
<path d="M581.55 371.74L592.85 371.74L587.20 381.52Z" fill="#008000" stroke="#000" stroke-width="1.1"/>
<path d="M613.45 373.84L624.75 373.84L619.10 383.62Z" fill="#008000" stroke="#000" stroke-width="1.1"/>
<path d="M648.25 365.74L659.55 365.74L653.90 375.52Z" fill="#008000" stroke="#000" stroke-width="1.1"/>
<text x="106.30" y="107.20" font-size="8.2" text-anchor="middle" font-weight="normal" fill="#000" stroke="#000" stroke-width="0.15">##</text>
<text x="135.30" y="83.20" font-size="8.2" text-anchor="middle" font-weight="normal" fill="#000" stroke="#000" stroke-width="0.15">#</text>
<text x="167.40" y="47.60" font-size="8.2" text-anchor="middle" font-weight="normal" fill="#000" stroke="#000" stroke-width="0.15">#</text>
<polygon points="161.50,49.50 162.16,51.09 163.88,51.23 162.57,52.35 162.97,54.02 161.50,53.12 160.03,54.02 160.43,52.35 159.12,51.23 160.84,51.09" fill="#2a8a2a"/>
<polygon points="166.30,49.50 166.96,51.09 168.68,51.23 167.37,52.35 167.77,54.02 166.30,53.12 164.83,54.02 165.23,52.35 163.92,51.23 165.64,51.09" fill="#2a8a2a"/>
<polygon points="171.10,49.50 171.76,51.09 173.48,51.23 172.17,52.35 172.57,54.02 171.10,53.12 169.63,54.02 170.03,52.35 168.72,51.23 170.44,51.09" fill="#2a8a2a"/>
<text x="201.70" y="48.40" font-size="8.2" text-anchor="middle" font-weight="normal" fill="#000" stroke="#000" stroke-width="0.15">#</text>
<polygon points="196.70,50.50 197.36,52.09 199.08,52.23 197.77,53.35 198.17,55.02 196.70,54.12 195.23,55.02 195.63,53.35 194.32,52.23 196.04,52.09" fill="#2a8a2a"/>
<polygon points="201.50,50.50 202.16,52.09 203.88,52.23 202.57,53.35 202.97,55.02 201.50,54.12 200.03,55.02 200.43,53.35 199.12,52.23 200.84,52.09" fill="#2a8a2a"/>
<polygon points="206.30,50.50 206.96,52.09 208.68,52.23 207.37,53.35 207.77,55.02 206.30,54.12 204.83,55.02 205.23,53.35 203.92,52.23 205.64,52.09" fill="#2a8a2a"/>
<polygon points="201.40,104.20 202.06,105.79 203.78,105.93 202.47,107.05 202.87,108.72 201.40,107.83 199.93,108.72 200.33,107.05 199.02,105.93 200.74,105.79" fill="#111"/>
<polygon points="228.10,42.10 228.76,43.69 230.48,43.83 229.17,44.95 229.57,46.62 228.10,45.72 226.63,46.62 227.03,44.95 225.72,43.83 227.44,43.69" fill="#2a8a2a"/>
<polygon points="232.90,42.10 233.56,43.69 235.28,43.83 233.97,44.95 234.37,46.62 232.90,45.72 231.43,46.62 231.83,44.95 230.52,43.83 232.24,43.69" fill="#2a8a2a"/>
<polygon points="237.70,42.10 238.36,43.69 240.08,43.83 238.77,44.95 239.17,46.62 237.70,45.72 236.23,46.62 236.63,44.95 235.32,43.83 237.04,43.69" fill="#2a8a2a"/>
<polygon points="231.70,96.00 232.36,97.59 234.08,97.73 232.77,98.85 233.17,100.52 231.70,99.62 230.23,100.52 230.63,98.85 229.32,97.73 231.04,97.59" fill="#111"/>
<polygon points="236.50,96.00 237.16,97.59 238.88,97.73 237.57,98.85 237.97,100.52 236.50,99.62 235.03,100.52 235.43,98.85 234.12,97.73 235.84,97.59" fill="#111"/>
<polygon points="265.30,33.70 265.96,35.29 267.68,35.43 266.37,36.55 266.77,38.22 265.30,37.32 263.83,38.22 264.23,36.55 262.92,35.43 264.64,35.29" fill="#2a8a2a"/>
<polygon points="270.10,33.70 270.76,35.29 272.48,35.43 271.17,36.55 271.57,38.22 270.10,37.32 268.63,38.22 269.03,36.55 267.72,35.43 269.44,35.29" fill="#2a8a2a"/>
<polygon points="260.90,90.70 261.56,92.29 263.28,92.43 261.97,93.55 262.37,95.22 260.90,94.33 259.43,95.22 259.83,93.55 258.52,92.43 260.24,92.29" fill="#111"/>
<polygon points="265.70,90.70 266.36,92.29 268.08,92.43 266.77,93.55 267.17,95.22 265.70,94.33 264.23,95.22 264.63,93.55 263.32,92.43 265.04,92.29" fill="#111"/>
<polygon points="270.50,90.70 271.16,92.29 272.88,92.43 271.57,93.55 271.97,95.22 270.50,94.33 269.03,95.22 269.43,93.55 268.12,92.43 269.84,92.29" fill="#111"/>
<text x="299.10" y="107.90" font-size="8.2" text-anchor="middle" font-weight="normal" fill="#000" stroke="#000" stroke-width="0.15">##</text>
<text x="358.80" y="77.50" font-size="8.2" text-anchor="middle" font-weight="normal" fill="#000" stroke="#000" stroke-width="0.15">#</text>
<polygon points="358.80,78.40 359.46,79.99 361.18,80.13 359.87,81.25 360.27,82.92 358.80,82.02 357.33,82.92 357.73,81.25 356.42,80.13 358.14,79.99" fill="#2a8a2a"/>
<text x="392.90" y="71.50" font-size="8.2" text-anchor="middle" font-weight="normal" fill="#000" stroke="#000" stroke-width="0.15">##</text>
<polygon points="390.50,73.60 391.16,75.19 392.88,75.33 391.57,76.45 391.97,78.12 390.50,77.22 389.03,78.12 389.43,76.45 388.12,75.33 389.84,75.19" fill="#2a8a2a"/>
<polygon points="395.30,73.60 395.96,75.19 397.68,75.33 396.37,76.45 396.77,78.12 395.30,77.22 393.83,78.12 394.23,76.45 392.92,75.33 394.64,75.19" fill="#2a8a2a"/>
<polygon points="390.60,117.40 391.26,118.99 392.98,119.13 391.67,120.25 392.07,121.92 390.60,121.02 389.13,121.92 389.53,120.25 388.22,119.13 389.94,118.99" fill="#111"/>
<polygon points="395.40,117.40 396.06,118.99 397.78,119.13 396.47,120.25 396.87,121.92 395.40,121.02 393.93,121.92 394.33,120.25 393.02,119.13 394.74,118.99" fill="#111"/>
<text x="425.00" y="72.60" font-size="8.2" text-anchor="middle" font-weight="normal" fill="#000" stroke="#000" stroke-width="0.15">##</text>
<polygon points="422.60,74.10 423.26,75.69 424.98,75.83 423.67,76.95 424.07,78.62 422.60,77.72 421.13,78.62 421.53,76.95 420.22,75.83 421.94,75.69" fill="#2a8a2a"/>
<polygon points="427.40,74.10 428.06,75.69 429.78,75.83 428.47,76.95 428.87,78.62 427.40,77.72 425.93,78.62 426.33,76.95 425.02,75.83 426.74,75.69" fill="#2a8a2a"/>
<polygon points="420.20,110.40 420.86,111.99 422.58,112.13 421.27,113.25 421.67,114.92 420.20,114.02 418.73,114.92 419.13,113.25 417.82,112.13 419.54,111.99" fill="#111"/>
<polygon points="425.00,110.40 425.66,111.99 427.38,112.13 426.07,113.25 426.47,114.92 425.00,114.02 423.53,114.92 423.93,113.25 422.62,112.13 424.34,111.99" fill="#111"/>
<polygon points="429.80,110.40 430.46,111.99 432.18,112.13 430.87,113.25 431.27,114.92 429.80,114.02 428.33,114.92 428.73,113.25 427.42,112.13 429.14,111.99" fill="#111"/>
<text x="458.90" y="63.30" font-size="8.2" text-anchor="middle" font-weight="normal" fill="#000" stroke="#000" stroke-width="0.15">#</text>
<polygon points="456.50,63.90 457.16,65.49 458.88,65.63 457.57,66.75 457.97,68.42 456.50,67.52 455.03,68.42 455.43,66.75 454.12,65.63 455.84,65.49" fill="#2a8a2a"/>
<polygon points="461.30,63.90 461.96,65.49 463.68,65.63 462.37,66.75 462.77,68.42 461.30,67.52 459.83,68.42 460.23,66.75 458.92,65.63 460.64,65.49" fill="#2a8a2a"/>
<polygon points="451.30,110.90 451.96,112.49 453.68,112.63 452.37,113.75 452.77,115.42 451.30,114.52 449.83,115.42 450.23,113.75 448.92,112.63 450.64,112.49" fill="#111"/>
<polygon points="456.10,110.90 456.76,112.49 458.48,112.63 457.17,113.75 457.57,115.42 456.10,114.52 454.63,115.42 455.03,113.75 453.72,112.63 455.44,112.49" fill="#111"/>
<polygon points="460.90,110.90 461.56,112.49 463.28,112.63 461.97,113.75 462.37,115.42 460.90,114.52 459.43,115.42 459.83,113.75 458.52,112.63 460.24,112.49" fill="#111"/>
<text x="492.40" y="106.90" font-size="8.2" text-anchor="middle" font-weight="normal" fill="#000" stroke="#000" stroke-width="0.15">##</text>
<text x="551.50" y="100.60" font-size="8.2" text-anchor="middle" font-weight="normal" fill="#000" stroke="#000" stroke-width="0.15">#</text>
<text x="587.30" y="101.90" font-size="8.2" text-anchor="middle" font-weight="normal" fill="#000" stroke="#000" stroke-width="0.15">###</text>
<text x="653.00" y="81.60" font-size="8.2" text-anchor="middle" font-weight="normal" fill="#000" stroke="#000" stroke-width="0.15">#</text>
<line x1="106.25" y1="183.10" x2="131.45" y2="183.10" stroke="#000" stroke-width="1"/>
<circle cx="119.05" cy="183.10" r="5.60" fill="#fff" stroke="#000" stroke-width="1.15"/>
<text x="137.15" y="187.00" font-size="11.1" text-anchor="start" font-weight="normal" fill="#000">no glucose</text>
<line x1="199.75" y1="183.10" x2="225.35" y2="183.10" stroke="#000" stroke-width="1"/>
<path d="M206.90 179.84L218.20 179.84L212.55 189.62Z" fill="#008000" stroke="#000" stroke-width="1.1"/>
<text x="230.65" y="187.00" font-size="11.1" text-anchor="start" font-weight="normal" fill="#000">glucose</text>
<line x1="298.40" y1="183.10" x2="323.60" y2="183.10" stroke="#000" stroke-width="1"/>
<circle cx="311.20" cy="183.10" r="5.60" fill="#fff" stroke="#000" stroke-width="1.15"/>
<text x="329.90" y="187.00" font-size="11.1" text-anchor="start" font-weight="normal" fill="#000">no glucose</text>
<line x1="391.90" y1="183.10" x2="417.50" y2="183.10" stroke="#000" stroke-width="1"/>
<path d="M399.05 179.84L410.35 179.84L404.70 189.62Z" fill="#008000" stroke="#000" stroke-width="1.1"/>
<text x="423.40" y="187.00" font-size="11.1" text-anchor="start" font-weight="normal" fill="#000">glucose</text>
<line x1="491.80" y1="183.10" x2="517.00" y2="183.10" stroke="#000" stroke-width="1"/>
<circle cx="504.60" cy="183.10" r="5.60" fill="#fff" stroke="#000" stroke-width="1.15"/>
<text x="523.20" y="187.00" font-size="11.1" text-anchor="start" font-weight="normal" fill="#000">no glucose</text>
<line x1="585.30" y1="183.10" x2="610.90" y2="183.10" stroke="#000" stroke-width="1"/>
<path d="M592.45 179.84L603.75 179.84L598.10 189.62Z" fill="#008000" stroke="#000" stroke-width="1.1"/>
<text x="616.70" y="187.00" font-size="11.1" text-anchor="start" font-weight="normal" fill="#000">glucose</text>
<line x1="178.00" y1="215.40" x2="206.80" y2="215.40" stroke="#000" stroke-width="1"/>
<circle cx="192.55" cy="215.40" r="6.10" fill="#fff" stroke="#000" stroke-width="1.15"/>
<text x="213.30" y="219.30" font-size="12.3" text-anchor="start" font-weight="normal" fill="#000">no glucose</text>
<line x1="178.00" y1="230.40" x2="206.80" y2="230.40" stroke="#000" stroke-width="1"/>
<path d="M186.55 226.94L198.55 226.94L192.55 237.33Z" fill="#008000" stroke="#000" stroke-width="1.1"/>
<text x="213.30" y="233.80" font-size="12.3" text-anchor="start" font-weight="normal" fill="#000">glucose</text>
<line x1="370.65" y1="216.40" x2="399.45" y2="216.40" stroke="#000" stroke-width="1"/>
<circle cx="385.20" cy="216.40" r="6.10" fill="#fff" stroke="#000" stroke-width="1.15"/>
<text x="405.95" y="220.30" font-size="12.3" text-anchor="start" font-weight="normal" fill="#000">no glucose</text>
<line x1="370.65" y1="231.40" x2="399.45" y2="231.40" stroke="#000" stroke-width="1"/>
<path d="M379.20 227.94L391.20 227.94L385.20 238.33Z" fill="#008000" stroke="#000" stroke-width="1.1"/>
<text x="405.95" y="234.80" font-size="12.3" text-anchor="start" font-weight="normal" fill="#000">glucose</text>
<line x1="563.85" y1="216.00" x2="592.65" y2="216.00" stroke="#000" stroke-width="1"/>
<circle cx="578.40" cy="216.00" r="6.10" fill="#fff" stroke="#000" stroke-width="1.15"/>
<text x="599.15" y="219.90" font-size="12.3" text-anchor="start" font-weight="normal" fill="#000">no glucose</text>
<line x1="563.85" y1="231.00" x2="592.65" y2="231.00" stroke="#000" stroke-width="1"/>
<path d="M572.40 227.54L584.40 227.54L578.40 237.93Z" fill="#008000" stroke="#000" stroke-width="1.1"/>
<text x="599.15" y="234.40" font-size="12.3" text-anchor="start" font-weight="normal" fill="#000">glucose</text>
<text x="103.00" y="40.30" font-size="16" text-anchor="start" font-weight="bold" fill="#000">a</text>
<text x="295.30" y="42.30" font-size="16" text-anchor="start" font-weight="bold" fill="#000">b</text>
<text x="488.30" y="40.30" font-size="16" text-anchor="start" font-weight="bold" fill="#000">c</text>
<text x="102.20" y="223.60" font-size="16" text-anchor="start" font-weight="bold" fill="#000">d</text>
<text x="293.40" y="223.20" font-size="16" text-anchor="start" font-weight="bold" fill="#000">e</text>
<text x="486.90" y="223.50" font-size="16" text-anchor="start" font-weight="bold" fill="#000">f</text>
<text x="89.30" y="202.60" font-size="11.5" text-anchor="end" font-weight="normal" fill="#000">0</text>
<text x="89.30" y="153.17" font-size="11.5" text-anchor="end" font-weight="normal" fill="#000">10</text>
<text x="89.30" y="103.74" font-size="11.5" text-anchor="end" font-weight="normal" fill="#000">20</text>
<text x="89.30" y="54.31" font-size="11.5" text-anchor="end" font-weight="normal" fill="#000">30</text>
<text x="89.30" y="384.50" font-size="11.5" text-anchor="end" font-weight="normal" fill="#000">0</text>
<text x="89.30" y="351.50" font-size="11.5" text-anchor="end" font-weight="normal" fill="#000">20</text>
<text x="89.30" y="318.50" font-size="11.5" text-anchor="end" font-weight="normal" fill="#000">40</text>
<text x="89.30" y="285.50" font-size="11.5" text-anchor="end" font-weight="normal" fill="#000">60</text>
<text x="89.30" y="252.50" font-size="11.5" text-anchor="end" font-weight="normal" fill="#000">80</text>
<text x="89.30" y="219.50" font-size="11.5" text-anchor="end" font-weight="normal" fill="#000">100</text>
<text x="99.55" y="402.00" font-size="11.5" text-anchor="middle" font-weight="normal" fill="#000">0</text>
<text x="134.50" y="402.00" font-size="11.5" text-anchor="middle" font-weight="normal" fill="#000">10</text>
<text x="166.20" y="402.00" font-size="11.5" text-anchor="middle" font-weight="normal" fill="#000">30</text>
<text x="201.30" y="402.00" font-size="11.5" text-anchor="middle" font-weight="normal" fill="#000">100</text>
<text x="233.30" y="402.00" font-size="11.5" text-anchor="middle" font-weight="normal" fill="#000">300</text>
<text x="268.20" y="402.00" font-size="11.5" text-anchor="middle" font-weight="normal" fill="#000">1000</text>
<text x="292.20" y="402.00" font-size="11.5" text-anchor="middle" font-weight="normal" fill="#000">0</text>
<text x="327.20" y="402.00" font-size="11.5" text-anchor="middle" font-weight="normal" fill="#000">10</text>
<text x="359.00" y="402.00" font-size="11.5" text-anchor="middle" font-weight="normal" fill="#000">30</text>
<text x="393.90" y="402.00" font-size="11.5" text-anchor="middle" font-weight="normal" fill="#000">100</text>
<text x="425.40" y="402.00" font-size="11.5" text-anchor="middle" font-weight="normal" fill="#000">300</text>
<text x="460.60" y="402.00" font-size="11.5" text-anchor="middle" font-weight="normal" fill="#000">1000</text>
<text x="486.60" y="402.00" font-size="11.5" text-anchor="middle" font-weight="normal" fill="#000">0</text>
<text x="520.50" y="402.00" font-size="11.5" text-anchor="middle" font-weight="normal" fill="#000">10</text>
<text x="552.40" y="402.00" font-size="11.5" text-anchor="middle" font-weight="normal" fill="#000">30</text>
<text x="587.20" y="402.00" font-size="11.5" text-anchor="middle" font-weight="normal" fill="#000">100</text>
<text x="619.10" y="402.00" font-size="11.5" text-anchor="middle" font-weight="normal" fill="#000">300</text>
<text x="653.90" y="402.00" font-size="11.5" text-anchor="middle" font-weight="normal" fill="#000">1000</text>
<text x="186.30" y="421.20" font-size="14.6" text-anchor="middle" font-weight="normal" fill="#000">[adenosine] (µM)</text>
<text x="378.60" y="421.20" font-size="14.6" text-anchor="middle" font-weight="normal" fill="#000">[inosine] (µM)</text>
<text x="572.50" y="421.20" font-size="14.6" text-anchor="middle" font-weight="normal" fill="#000">[guanosine] (µM)</text>
<text transform="translate(53.1,111.5) rotate(-90)" font-size="14.8" text-anchor="middle">ATP content</text>
<text transform="translate(70.3,111.4) rotate(-90)" font-size="14.65" text-anchor="middle">(nmol/mg)</text>
<text transform="translate(53,292.4) rotate(-90)" font-size="14.6" text-anchor="middle">extracellular LDH activity</text>
<text transform="translate(70.3,292.6) rotate(-90)" font-size="14.75" text-anchor="middle">(% of initial activity)</text>
</svg></body></html>
